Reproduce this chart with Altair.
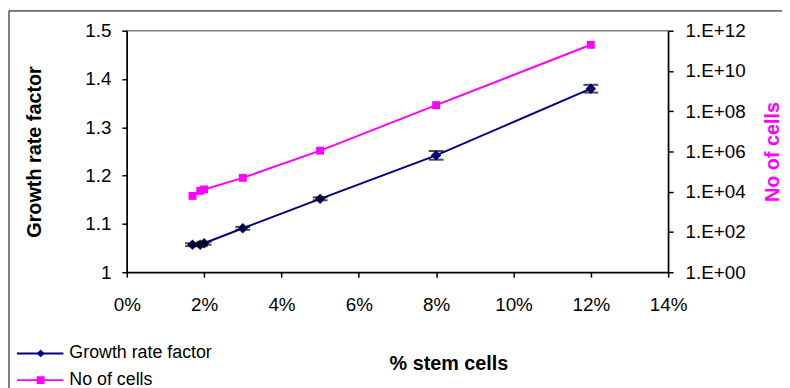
import json
import altair as alt
import pandas as pd

# ---- data ----
pct = [0.017, 0.019, 0.020, 0.030, 0.050, 0.080, 0.120]
growth = [1.057, 1.057, 1.060, 1.091, 1.152, 1.242, 1.380]
growth_err = [0.003, 0.003, 0.003, 0.003, 0.003, 0.009, 0.008]
cells = [6.2e3, 1.1e4, 1.3e4, 4.9e4, 1.1e6, 2.0e8, 2.0e11]
series_names = ["Growth rate factor", "No of cells"]
x_ticks = [0, 0.02, 0.04, 0.06, 0.08, 0.10, 0.12, 0.14]
y_ticks = [1, 1.1, 1.2, 1.3, 1.4, 1.5]
cell_ticks = [1e0, 1e2, 1e4, 1e6, 1e8, 1e10, 1e12]
cell_labels = ["1.E+00", "1.E+02", "1.E+04", "1.E+06", "1.E+08", "1.E+10", "1.E+12"]

NAVY = "#000080"
MAGENTA = "#FF00FF"
FONT = "Liberation Sans"

df_g = pd.DataFrame({
    "pct": pct,
    "value": growth,
    "lo": [g - e for g, e in zip(growth, growth_err)],
    "hi": [g + e for g, e in zip(growth, growth_err)],
    "series": series_names[0],
    "marker": series_names[0],
})
df_c = pd.DataFrame({"pct": pct, "value": cells,
                     "series": series_names[1], "marker": series_names[1]})

x_enc = alt.X(
    "pct:Q",
    scale=alt.Scale(domain=[0, 0.14]),
    axis=alt.Axis(values=x_ticks, format=".0%", title="% stem cells", labelFlush=False,
                  titleX=325, titleY=92, titleBaseline="middle", labelPadding=19),
)

y_left_axis = alt.Axis(orient="left", values=y_ticks, format=".1~f",
                       title="Growth rate factor", titleX=-93, titleY=122,
                       titleAngle=270, titleBaseline="middle", labelPadding=11)
y_left_scale = alt.Scale(domain=[1, 1.5])

color_legend = alt.Legend(title=None, orient="none", legendX=-112, legendY=317,
                          symbolType="stroke", symbolSize=2209, symbolStrokeWidth=2,
                          labelOffset=5, rowPadding=9, clipHeight=18,
                          labelFontSize=18, labelColor="black", labelFont=FONT)
marker_legend = alt.Legend(title=None, orient="none", legendX=-96, legendY=317,
                           symbolSize=64, labelExpr="''", rowPadding=9, clipHeight=18,
                           labelFontSize=18, labelFont=FONT, labelOffset=0)

color_enc = alt.Color("series:N", scale=alt.Scale(domain=series_names, range=[NAVY, MAGENTA]),
                      legend=color_legend)
fill_enc = alt.Fill("marker:N", scale=alt.Scale(range=[NAVY, MAGENTA]),
                    legend=marker_legend)
shape_enc = alt.Shape("marker:N", scale=alt.Scale(range=["diamond", "square"]),
                      legend=marker_legend)

g_base = alt.Chart(df_g)
g_line = g_base.mark_line(strokeWidth=2).encode(
    x=x_enc, y=alt.Y("value:Q", scale=y_left_scale, axis=y_left_axis), color=color_enc)
g_rule = g_base.mark_rule(color="black", strokeWidth=1.5).encode(
    x=x_enc, y=alt.Y("lo:Q", scale=y_left_scale, axis=y_left_axis), y2="hi:Q")
g_pts = g_base.mark_point(filled=True, size=110, opacity=1).encode(
    x=x_enc, y=alt.Y("value:Q", scale=y_left_scale, axis=y_left_axis), fill=fill_enc, shape=shape_enc)
g_lo = g_base.mark_tick(color="black", thickness=2, size=15, orient="horizontal").encode(
    x=x_enc, y=alt.Y("lo:Q", scale=y_left_scale, axis=y_left_axis))
g_hi = g_base.mark_tick(color="black", thickness=2, size=15, orient="horizontal").encode(
    x=x_enc, y=alt.Y("hi:Q", scale=y_left_scale, axis=y_left_axis))
growth_layer = alt.layer(g_line, g_rule, g_pts, g_lo, g_hi)

y_right = alt.Y("value:Q", scale=alt.Scale(type="log", domain=[1, 1e12]),
                axis=alt.Axis(orient="right", values=cell_ticks,
                              labelExpr=json.dumps(cell_labels) + "[round(log(datum.value)/LN10/2)]",
                              title="No of cells", titleColor=MAGENTA, titleX=105, titleY=122,
                              titleAngle=270, titleBaseline="middle", labelPadding=12))
c_base = alt.Chart(df_c)
c_line = c_base.mark_line(strokeWidth=2).encode(x=x_enc, y=y_right, color=color_enc)
c_pts = c_base.mark_point(filled=True, size=64, opacity=1).encode(
    x=x_enc, y=y_right, fill=fill_enc, shape=shape_enc)
cells_layer = alt.layer(c_line, c_pts)

frame = alt.Chart(pd.DataFrame({"a": [0]})).mark_rect(
    fillOpacity=0, stroke="black", strokeWidth=1).encode(
    x=alt.value(-119), x2=alt.value(900), y=alt.value(-20), y2=alt.value(500))

chart = alt.layer(frame, growth_layer, cells_layer).resolve_scale(y="independent").properties(
    width=547, height=244,
    padding={"left": 120, "top": 21, "right": 115, "bottom": 115},
    autosize=alt.AutoSizeParams(type="none"),
    background="white",
).configure_view(stroke="#808080", strokeWidth=1.5).configure_axis(
    grid=False, domainColor="black", tickColor="black", domainWidth=1.5, tickWidth=1.5,
    tickSize=5, labelFont=FONT, labelFontSize=19, labelColor="black",
    titleFont=FONT, titleFontSize=20, titleFontWeight="bold", titleColor="black",
)

chart.save("out.html", embed_options={"renderer": "svg", "actions": False})
